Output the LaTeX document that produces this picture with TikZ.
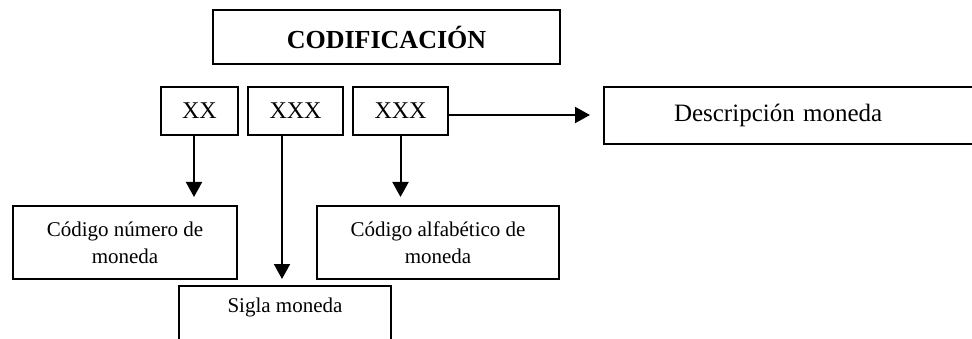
\documentclass[tikz,border=0pt]{standalone}
\usepackage{fontspec}
\setmainfont{Liberation Serif}
\usetikzlibrary{arrows.meta}
\tikzset{
	caja/.style={draw, line width=2pt, inner sep=0pt, align=center, font=\fontsize{21}{27}\selectfont},
	flecha/.style={line width=2pt, -{Triangle[length=15pt,width=16pt]}}
}
\begin{document}
\begin{tikzpicture}[x=1pt,y=-1pt]
	\useasboundingbox (0,0) rectangle (972,339);
	\node[caja, minimum width=347pt, minimum height=54pt, font=\fontsize{26}{30}\selectfont\bfseries] (cod) at (386.5,37) {CODIFICACIÓN};
	\node[caja, minimum width=77pt, minimum height=48pt, font=\fontsize{24}{28}\selectfont] (xx) at (199.5,111) {XX};
	\node[caja, minimum width=95pt, minimum height=48pt, font=\fontsize{24}{28}\selectfont] (xxxa) at (295.5,111) {XXX};
	\node[caja, minimum width=95pt, minimum height=48pt, font=\fontsize{24}{28}\selectfont] (xxxb) at (400.5,111) {XXX};
	\node[caja, anchor=west, minimum height=57pt, text width=242pt, inner xsep=70pt, align=left, font=\fontsize{25}{30}\selectfont] (desc) at (603,115.5) {Descripción moneda};
	\node[caja, minimum width=224pt, minimum height=73pt] (num) at (125,242.5) {Código número de\\moneda};
	\node[caja, minimum width=242pt, minimum height=73pt] (alfa) at (438,242.5) {Código alfabético de\\moneda};
	\node[caja, anchor=north, minimum width=212pt, minimum height=73pt] (sigla) at (285,285) {Sigla moneda\\ \strut};
	\draw[flecha, shorten >=8pt] ([xshift=-5.5pt]xx.south) -- ([xshift=-5.5pt]xx.south |- num.north);
	\draw[flecha, shorten >=6pt] ([xshift=-13.5pt]xxxa.south) -- ([xshift=-13.5pt]xxxa.south |- sigla.north);
	\draw[flecha, shorten >=8pt] (xxxb.south) -- (xxxb.south |- alfa.north);
	\draw[flecha, shorten >=13pt] ([yshift=-4pt]xxxb.east) -- ([yshift=-4pt]xxxb.east -| desc.west);
\end{tikzpicture}
\end{document}
